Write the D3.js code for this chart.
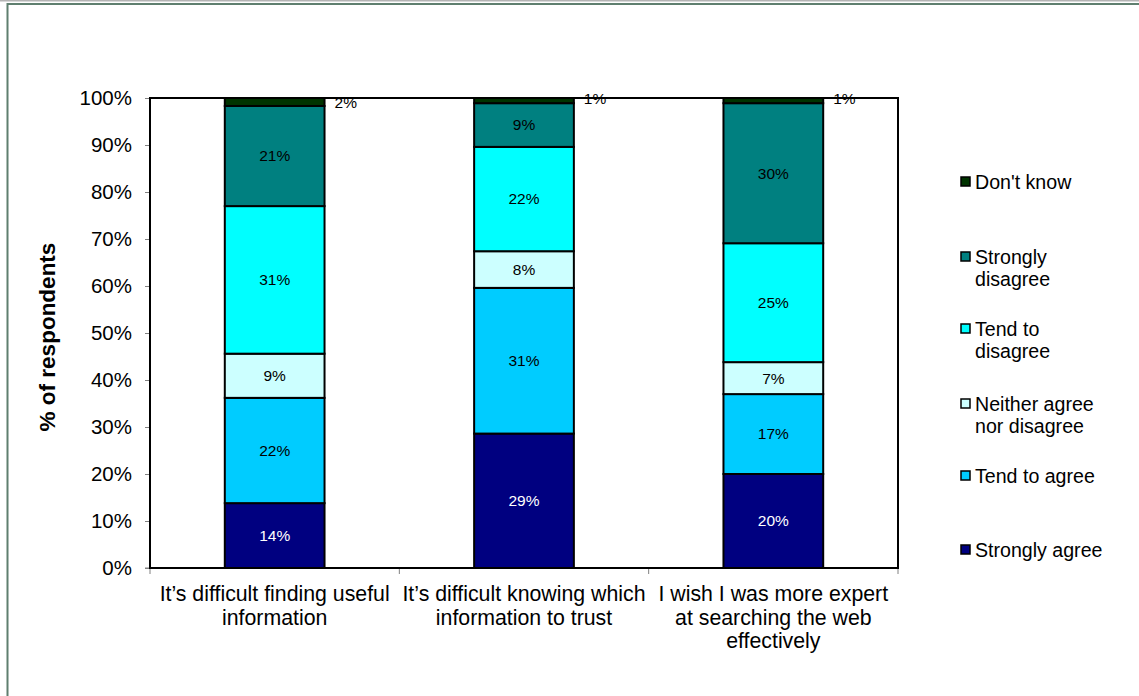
<!DOCTYPE html>
<html>
<head>
<meta charset="utf-8">
<script src="https://cdn.jsdelivr.net/npm/d3@7"></script>
<style>
  html, body { margin: 0; padding: 0; background: #fff; }
  svg { display: block; font-family: "Liberation Sans", Arial, sans-serif; }
</style>
</head>
<body>
<svg id="chart" width="1139" height="696"></svg>
<script>
// ---- Data ----
const categories = [
  ["It\u2019s difficult finding useful", "information"],
  ["It\u2019s difficult knowing which", "information to trust"],
  ["I wish I was more expert", "at searching the web", "effectively"]
];
const seriesNames = ["Strongly agree", "Tend to agree", "Neither agree nor disagree", "Tend to disagree", "Strongly disagree", "Don't know"];
const legendLines = [["Strongly agree"], ["Tend to agree"], ["Neither agree", "nor disagree"], ["Tend to", "disagree"], ["Strongly", "disagree"], ["Don't know"]];
const stronglyAgree   = [13.8, 28.6, 20.0];
const tendToAgree     = [22.4, 31.0, 17.0];
const neither         = [9.4, 7.8, 6.8];
const tendToDisagree  = [31.4, 22.2, 25.3];
const stronglyDisagree= [21.3, 9.3, 29.8];
const dontKnow        = [1.7, 1.1, 1.1];
const labelsSA  = ["14%", "29%", "20%"];
const labelsTA  = ["22%", "31%", "17%"];
const labelsN   = ["9%", "8%", "7%"];
const labelsTD  = ["31%", "22%", "25%"];
const labelsSD  = ["21%", "9%", "30%"];
const labelsDK  = ["2%", "1%", "1%"];
const yTicks = [0, 10, 20, 30, 40, 50, 60, 70, 80, 90, 100];
const colors = ["#000080", "#00CCFF", "#CCFFFF", "#00FFFF", "#008080", "#003300"];
const labelColors = ["#ffffff", "#000", "#000", "#000", "#000", "#000"];

const seriesValues = [stronglyAgree, tendToAgree, neither, tendToDisagree, stronglyDisagree, dontKnow];
const seriesLabels = [labelsSA, labelsTA, labelsN, labelsTD, labelsSD, labelsDK];

// ---- Layout ----
const svg = d3.select("#chart");
const W = 1139, H = 696;
const plot = {left: 150, right: 898, top: 98, bottom: 568};

// frame
svg.append("rect").attr("x", 0).attr("y", 0).attr("width", W).attr("height", 1.5).attr("fill", "#b4b4b4");
svg.append("line").attr("x1", 7).attr("x2", W).attr("y1", 4).attr("y2", 4).attr("stroke", "#5f7f6f").attr("stroke-width", 2);
svg.append("line").attr("x1", 7.5).attr("x2", 7.5).attr("y1", 3).attr("y2", H).attr("stroke", "#5f7f6f").attr("stroke-width", 2);

const x = d3.scaleBand().domain(d3.range(categories.length))
  .range([plot.left, plot.right]).paddingInner(0.6).paddingOuter(0.3);
const y = d3.scaleLinear().domain([0, 100]).range([plot.bottom, plot.top]);

// stack data
const rows = categories.map((c, i) => {
  const r = {i};
  seriesNames.forEach((s, k) => r[s] = seriesValues[k][i]);
  return r;
});
const stack = d3.stack().keys(seriesNames)(rows);

// y axis
const yAxis = d3.axisLeft(y).tickValues(yTicks).tickFormat(d => d + "%").tickSize(5).tickPadding(13);
const gy = svg.append("g").attr("transform", `translate(${plot.left},0)`).call(yAxis);
gy.select(".domain").remove();
gy.selectAll(".tick line").attr("stroke", "#808080").attr("stroke-width", 1);
gy.selectAll(".tick text").attr("font-size", 20.5).attr("fill", "#000").attr("font-family", "Liberation Sans, Arial, sans-serif");

// x axis ticks (between categories)
const xTickPos = [plot.left].concat(d3.range(categories.length).map(i => x(i) + x.bandwidth() / 2 + x.step() / 2));
svg.append("g").selectAll("line").data(xTickPos).join("line")
  .attr("x1", d => d).attr("x2", d => d)
  .attr("y1", plot.bottom).attr("y2", plot.bottom + 6)
  .attr("stroke", "#808080").attr("stroke-width", 1);
svg.append("line").attr("x1", plot.left - 5).attr("x2", plot.right + 1)
  .attr("y1", plot.bottom).attr("y2", plot.bottom).attr("stroke", "#808080").attr("stroke-width", 1);

// bars
const gBars = svg.append("g");
stack.forEach((layer, k) => {
  gBars.append("g").selectAll("rect").data(layer).join("rect")
    .attr("x", (d, i) => x(i))
    .attr("width", x.bandwidth())
    .attr("y", d => y(d[1]))
    .attr("height", d => y(d[0]) - y(d[1]))
    .attr("fill", colors[k])
    .attr("stroke", "#000").attr("stroke-width", 2);
});

// plot border
svg.append("rect").attr("x", plot.left).attr("y", plot.top)
  .attr("width", plot.right - plot.left).attr("height", plot.bottom - plot.top)
  .attr("fill", "none").attr("stroke", "#000").attr("stroke-width", 2);

// bar labels
stack.forEach((layer, k) => {
  const isDK = k === seriesNames.length - 1;
  svg.append("g").selectAll("text").data(layer).join("text")
    .attr("x", (d, i) => isDK ? x(i) + x.bandwidth() + 10 : x(i) + x.bandwidth() / 2)
    .attr("y", (d, i) => isDK ? y(d[1]) + (i === 0 ? 5 : 1) : (y(d[0]) + y(d[1])) / 2)
    .attr("dy", "0.35em")
    .attr("text-anchor", isDK ? "start" : "middle")
    .attr("font-size", 15.5)
    .attr("fill", labelColors[k])
    .text((d, i) => seriesLabels[k][i]);
});

// category labels
const gCat = svg.append("g");
categories.forEach((lines, i) => {
  const cx = x(i) + x.bandwidth() / 2;
  lines.forEach((t, j) => {
    gCat.append("text").attr("x", cx).attr("y", 594 + j * 23.5).attr("dy", "0.35em")
      .attr("text-anchor", "middle").attr("font-size", 21.3).attr("fill", "#000").text(t);
  });
});

// y title
svg.append("text").attr("transform", "translate(47,337) rotate(-90)")
  .attr("text-anchor", "middle").attr("dy", "0.35em")
  .attr("font-size", 22.5).attr("font-weight", "bold").attr("fill", "#000")
  .text("% of respondents");

// legend (top to bottom: reverse order)
const legendY = [182, 257, 329, 404, 476, 550];
const legendOrder = d3.range(seriesNames.length).reverse();
const gLeg = svg.append("g");
legendOrder.forEach((k, idx) => {
  const ly = legendY[idx];
  gLeg.append("rect").attr("x", 961).attr("y", ly - 5).attr("width", 9).attr("height", 9)
    .attr("fill", colors[k]).attr("stroke", "#000").attr("stroke-width", 1.5);
  legendLines[k].forEach((t, j) => {
    gLeg.append("text").attr("x", 975).attr("y", ly + j * 22).attr("dy", "0.35em")
      .attr("font-size", 19.6).attr("fill", "#000").text(t);
  });
});
</script>
</body>
</html>
